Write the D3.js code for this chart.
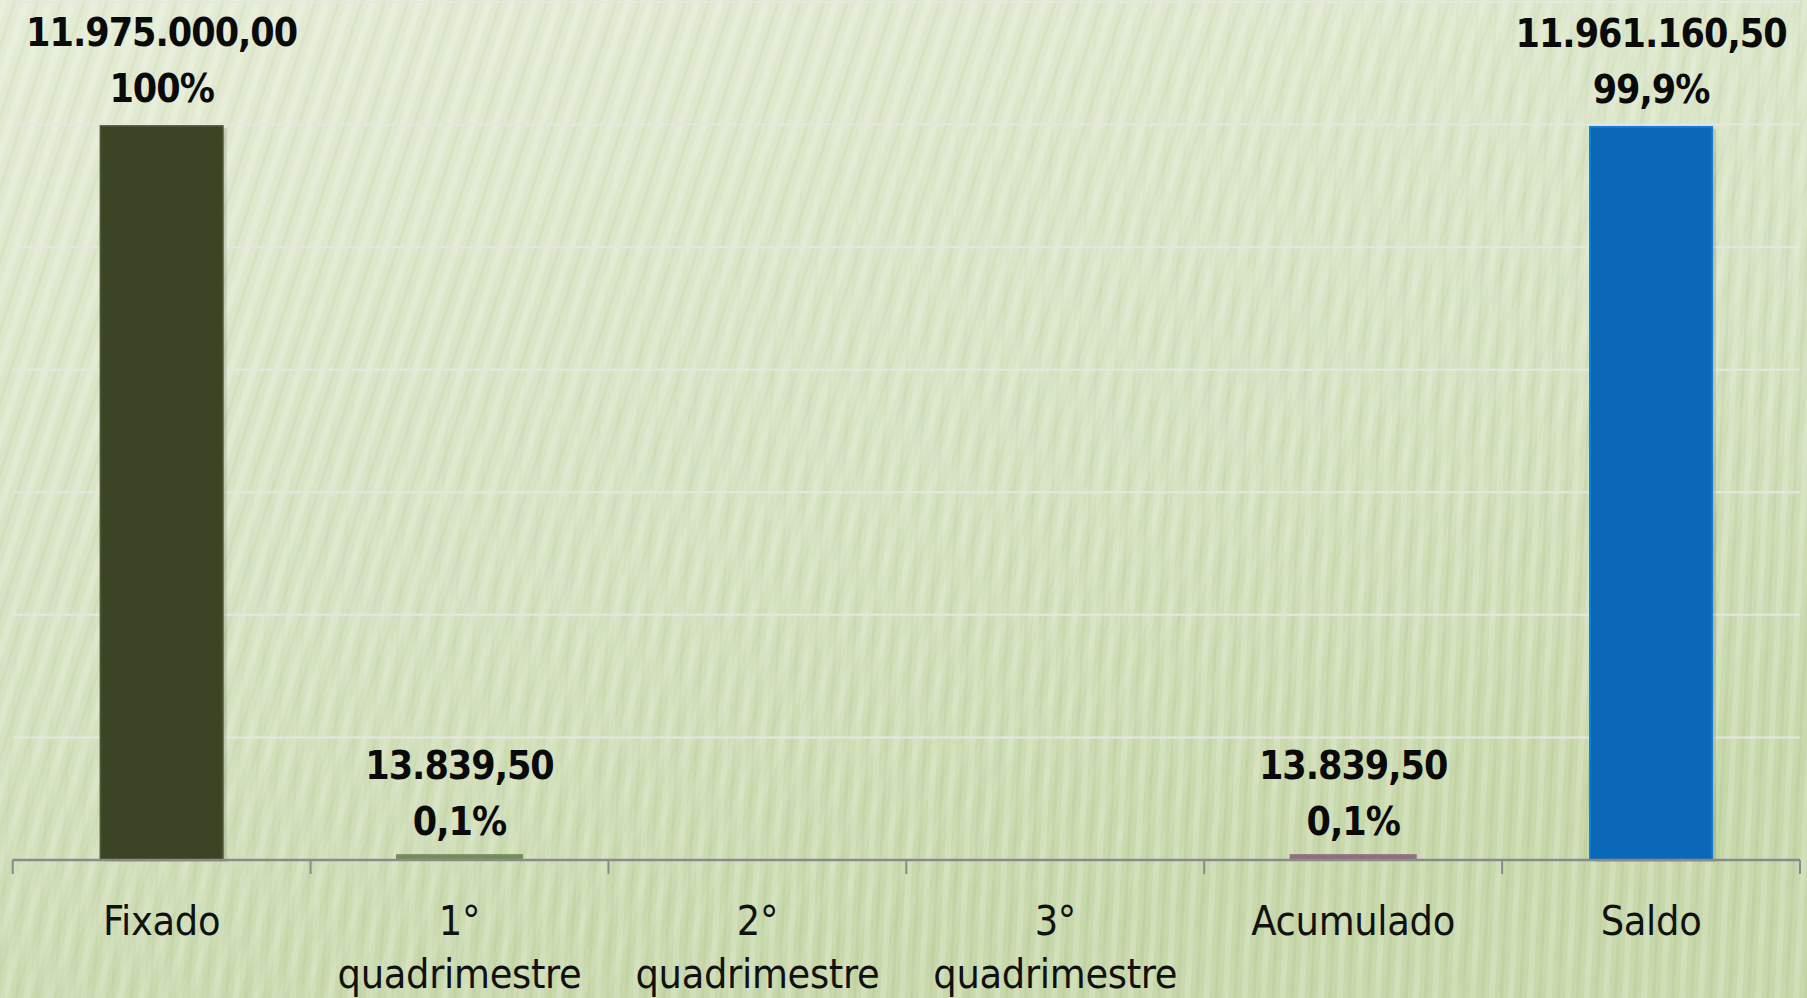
<!DOCTYPE html>
<html><head><meta charset="utf-8">
<script src="https://cdn.jsdelivr.net/npm/d3@7"></script>
<style>
html,body{margin:0;padding:0;background:#d6e3c0;}
svg{display:block;}
</style></head>
<body>
<svg id="chart" width="1807" height="998"></svg>
<script>
// ---- data ----
const categories = ["Fixado", "1° quadrimestre", "2° quadrimestre", "3° quadrimestre", "Acumulado", "Saldo"];
const values = [11975000, 13839.5, 0, 0, 13839.5, 11961160.5];
const valueLabels = ["11.975.000,00", "13.839,50", null, null, "13.839,50", "11.961.160,50"];
const percentLabels = ["100%", "0,1%", null, null, "0,1%", "99,9%"];
const barColors = ["#3b4526", "#6f8a55", "#6f8a55", "#6f8a55", "#8c6c7a", "#0a68b6"];
const yTicks = [0, 2000000, 4000000, 6000000, 8000000, 10000000, 12000000, 14000000];

const W = 1807, H = 998;
const svg = d3.select("#chart");
const defs = svg.append("defs");

// background gradient
const bg = defs.append("linearGradient").attr("id","bg").attr("x1","0").attr("y1","0").attr("x2","0.4").attr("y2","1");
bg.append("stop").attr("offset","0").attr("stop-color","#e4ecd5");
bg.append("stop").attr("offset","0.6").attr("stop-color","#d5e2c0");
bg.append("stop").attr("offset","1").attr("stop-color","#c7d8aa");
svg.append("rect").attr("width",W).attr("height",H).attr("fill","url(#bg)");

// stripes pattern (decorative)
const pat = defs.append("pattern").attr("id","stripes").attr("patternUnits","userSpaceOnUse")
  .attr("width",22).attr("height",22).attr("patternTransform","rotate(18)");
pat.append("rect").attr("x",0).attr("y",0).attr("width",7).attr("height",22).attr("fill","#ffffff").attr("opacity",0.2);
pat.append("rect").attr("x",13).attr("y",0).attr("width",3).attr("height",22).attr("fill","#9fb67e").attr("opacity",0.1);
const fadeA = defs.append("linearGradient").attr("id","fadeA").attr("x1","0").attr("y1","0").attr("x2","1").attr("y2","1");
fadeA.append("stop").attr("offset","0.3").attr("stop-color","#fff").attr("stop-opacity",1);
fadeA.append("stop").attr("offset","0.8").attr("stop-color","#fff").attr("stop-opacity",0.2);
const maskA = defs.append("mask").attr("id","fadeMA");
maskA.append("rect").attr("width",W).attr("height",H).attr("fill","url(#fadeA)");
svg.append("rect").attr("width",W).attr("height",H).attr("fill","url(#stripes)").attr("mask","url(#fadeMA)");

const pat2 = defs.append("pattern").attr("id","stripes2").attr("patternUnits","userSpaceOnUse")
  .attr("width",19).attr("height",19).attr("patternTransform","rotate(3)");
pat2.append("rect").attr("x",0).attr("y",0).attr("width",6).attr("height",19).attr("fill","#ffffff").attr("opacity",0.18);
pat2.append("rect").attr("x",11).attr("y",0).attr("width",3).attr("height",19).attr("fill","#98ad76").attr("opacity",0.12);
const fadeMask = defs.append("linearGradient").attr("id","fadeG").attr("x1","0").attr("y1","0").attr("x2","1").attr("y2","1");
fadeMask.append("stop").attr("offset","0.25").attr("stop-color","#fff").attr("stop-opacity",0);
fadeMask.append("stop").attr("offset","0.7").attr("stop-color","#fff").attr("stop-opacity",1);
const mask = defs.append("mask").attr("id","fadeM");
mask.append("rect").attr("width",W).attr("height",H).attr("fill","url(#fadeG)");
svg.append("rect").attr("width",W).attr("height",H).attr("fill","url(#stripes2)").attr("mask","url(#fadeM)");

// ---- scales ----
const plot = {left: 12.7, right: 1800, top: 2, bottom: 860};
const x = d3.scaleBand().domain(categories).range([plot.left, plot.right]).paddingInner(0.59).paddingOuter(0.295);
const y = d3.scaleLinear().domain([0, 14000000]).range([plot.bottom, plot.top]);

// gridlines
svg.append("g").selectAll("line").data(yTicks.slice(1)).join("line")
  .attr("x1", plot.left).attr("x2", plot.right)
  .attr("y1", d => y(d)).attr("y2", d => y(d))
  .attr("stroke", "#e6e6e4").attr("stroke-width", 2);

// bars
const barG = svg.append("g");
categories.forEach((c, i) => {
  if (!values[i]) return;
  const col = d3.color(barColors[i]);
  const bx = x(c), bw = x.bandwidth(), by = y(values[i]), bh = plot.bottom - y(values[i]);
  const small = bh < 5;
  barG.append("rect").attr("x", bx + 4).attr("y", by + 2).attr("width", bw).attr("height", bh)
    .attr("fill", "#000").attr("opacity", small ? 0 : 0.12);
  barG.append("rect").attr("x", bx).attr("y", small ? by - 2.5 : by).attr("width", bw).attr("height", bh)
    .attr("fill", barColors[i])
    .attr("stroke", small ? col : col.brighter(0.5)).attr("stroke-width", small ? 5 : 2)
    .attr("stroke-opacity", 0.95);
});

// x axis
const axis = svg.append("g").attr("transform", `translate(0,${plot.bottom})`)
  .call(d3.axisBottom(x).tickSize(0).tickFormat(""));
axis.select(".domain").attr("stroke", "#8a8a8a").attr("stroke-width", 2.5)
  .attr("d", `M${plot.left},0H${plot.right}`);
const edges = [plot.left].concat(categories.map(c => x(c) + x.bandwidth() + x.step() * x.paddingInner() / 2));
edges[edges.length - 1] = plot.right;
axis.append("g").selectAll("line").data(edges).join("line")
  .attr("x1", d => d).attr("x2", d => d).attr("y1", 0).attr("y2", 14)
  .attr("stroke", "#8a8a8a").attr("stroke-width", 2);

// category labels
const catFont = "'Liberation Sans Narrow','DejaVu Sans Condensed',sans-serif";
categories.forEach(c => {
  const parts = c.split(" ");
  const cx = x(c) + x.bandwidth() / 2;
  const t = svg.append("text").attr("x", cx).attr("y", 935).attr("text-anchor", "middle")
    .attr("font-family", catFont).attr("font-size", 41).attr("letter-spacing", "-0.3px").attr("fill", "#111");
  parts.forEach((p, k) => {
    t.append("tspan").attr("x", cx).attr("dy", k === 0 ? 0 : 53).text(p);
  });
});

// data labels
const lblFont = "'Liberation Sans Narrow','DejaVu Sans Condensed',sans-serif";
categories.forEach((c, i) => {
  if (!valueLabels[i]) return;
  const cx = x(c) + x.bandwidth() / 2;
  const top = y(values[i]);
  const t = svg.append("text").attr("text-anchor", "middle")
    .attr("font-family", lblFont).attr("font-weight", "bold").attr("font-size", 39)
    .attr("letter-spacing", "-1px").attr("fill", "#0a0a0a");
  t.append("tspan").attr("x", cx).attr("y", top - 80).text(valueLabels[i]);
  t.append("tspan").attr("x", cx).attr("y", top - 24).text(percentLabels[i]);
});
</script>
</body></html>
